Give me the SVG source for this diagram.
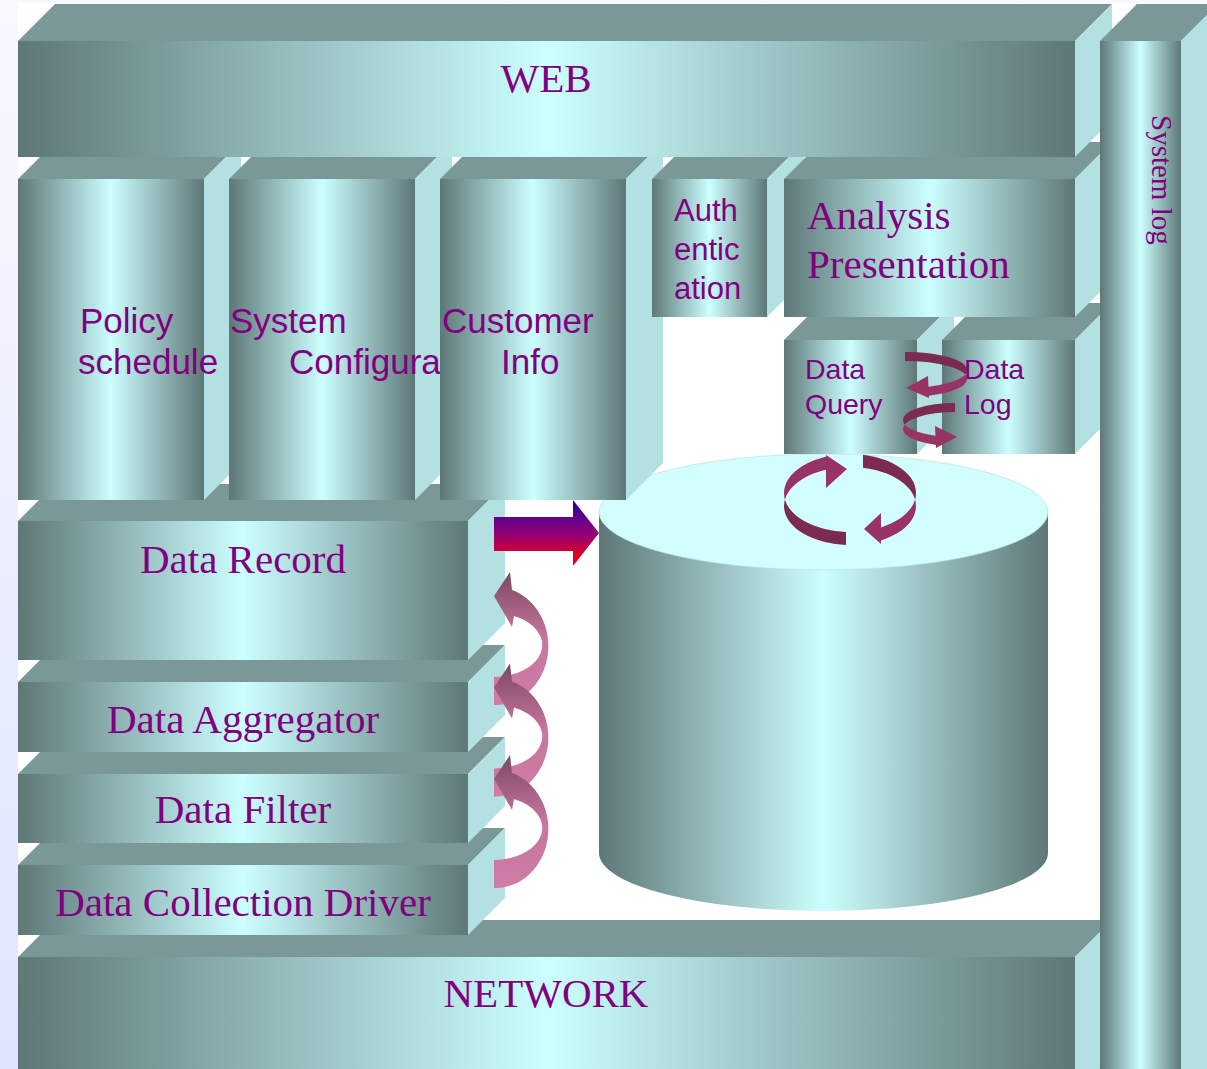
<svg xmlns="http://www.w3.org/2000/svg" width="1207" height="1069" viewBox="0 0 1207 1069">
  <defs>
    <linearGradient id="bg" x1="0" y1="0" x2="0" y2="1">
      <stop offset="0" stop-color="#f8f8ff"/>
      <stop offset="1" stop-color="#dfe5ff"/>
    </linearGradient>
    <!-- front faces: dark edges, light centre -->
    <linearGradient id="face" x1="0" y1="0" x2="1" y2="0">
      <stop offset="0" stop-color="#5e7777"/>
      <stop offset="0.5" stop-color="#ccffff"/>
      <stop offset="1" stop-color="#5e7777"/>
    </linearGradient>
    <linearGradient id="bigArrow" gradientUnits="userSpaceOnUse" x1="0" y1="500" x2="0" y2="566">
      <stop offset="0" stop-color="#2a00a0"/>
      <stop offset="0.5" stop-color="#900078"/>
      <stop offset="1" stop-color="#ff0000"/>
    </linearGradient>
    <linearGradient id="curl" x1="0" y1="0" x2="0" y2="1">
      <stop offset="0" stop-color="#7b4862"/>
      <stop offset="0.5" stop-color="#c676a0"/>
      <stop offset="1" stop-color="#cf7ca6"/>
    </linearGradient>
    <clipPath id="cUL"><rect x="780" y="440" width="46" height="59.5"/></clipPath>
    <clipPath id="cLL"><rect x="780" y="499.5" width="66" height="60"/></clipPath>
    <clipPath id="cUR"><rect x="863" y="440" width="60" height="59.5"/></clipPath>
    <clipPath id="cLR"><rect x="881" y="499.5" width="42" height="60"/></clipPath>
    <clipPath id="qU"><rect x="905" y="345" width="70" height="29.5"/></clipPath>
    <clipPath id="qL"><rect x="928" y="374.5" width="47" height="30"/></clipPath>
    <clipPath id="lU"><rect x="895" y="398" width="60" height="26.5"/></clipPath>
    <clipPath id="lL"><rect x="895" y="424.5" width="41" height="30"/></clipPath>
    <path id="ring" fill-rule="evenodd" d="M784,493 a66,39 0 1,0 132,0 a66,39 0 1,0 -132,0 Z M784,506 a66,39 0 1,0 132,0 a66,39 0 1,0 -132,0 Z"/>
    <path id="ringQ" fill-rule="evenodd" d="M843,370 a62,18 0 1,0 124,0 a62,18 0 1,0 -124,0 Z M843,379 a62,18 0 1,0 124,0 a62,18 0 1,0 -124,0 Z"/>
    <path id="ringL" fill-rule="evenodd" d="M903,420 a52,17 0 1,0 104,0 a52,17 0 1,0 -104,0 Z M903,429 a52,17 0 1,0 104,0 a52,17 0 1,0 -104,0 Z"/>
  </defs>
  <style>
    .front { fill: url(#face); }
    .top { fill: #799897; }
    .side { fill: #b3e0e0; }
    .serif { font-family: "Liberation Serif", "Times New Roman", serif; fill: #800080; font-size: 41px; }
    .serif.small { font-size: 29px; }
    .sans { font-family: "Liberation Sans", Arial, sans-serif; fill: #800080; }
    .mid { text-anchor: middle; }
    .dark { fill: #7b2a52; }
    .lite { fill: #993366; }
  </style>

  <!-- page -->
  <rect x="0" y="0" width="1207" height="1069" fill="url(#bg)"/>
  <rect x="18" y="3" width="1189" height="1066" fill="#ffffff"/>

  <!-- stacked blocks, drawn bottom to top -->
  <g id="network">
    <path class="top" d="M18,957 L55,920 L1112,920 L1075,957 Z"/>
    <path class="side" d="M1075,957 L1112,920 L1112,1069 L1075,1069 Z"/>
    <rect class="front" x="18" y="957" width="1057" height="120"/>
    <text class="serif mid" x="546" y="1007">NETWORK</text>
  </g>
  <g id="collection-driver">
    <path class="top" d="M18,865 L55,828 L505,828 L468,865 Z"/>
    <path class="side" d="M468,865 L505,828 L505,898 L468,935 Z"/>
    <rect class="front" x="18" y="865" width="450" height="70"/>
    <text class="serif mid" x="243" y="916">Data Collection Driver</text>
  </g>
  <g id="filter">
    <path class="top" d="M18,774 L55,737 L505,737 L468,774 Z"/>
    <path class="side" d="M468,774 L505,737 L505,806 L468,843 Z"/>
    <rect class="front" x="18" y="774" width="450" height="69"/>
    <text class="serif mid" x="243" y="823">Data Filter</text>
  </g>
  <g id="aggregator">
    <path class="top" d="M18,682 L55,645 L505,645 L468,682 Z"/>
    <path class="side" d="M468,682 L505,645 L505,715 L468,752 Z"/>
    <rect class="front" x="18" y="682" width="450" height="70"/>
    <text class="serif mid" x="243" y="733">Data Aggregator</text>
  </g>
  <g id="data-record">
    <path class="top" d="M18,521 L55,484 L505,484 L468,521 Z"/>
    <path class="side" d="M468,521 L505,484 L505,623 L468,660 Z"/>
    <rect class="front" x="18" y="521" width="450" height="139"/>
    <text class="serif mid" x="243" y="573">Data Record</text>
  </g>

  <!-- storage drum -->
  <g id="database">
    <path class="front" d="M599,512 L599,853 A224.5,58 0 0,0 1048,853 L1048,512 Z"/>
    <ellipse cx="823.5" cy="512" rx="224.5" ry="58" fill="#d2fefe" stroke="#b8dcdc" stroke-width="0.6"/>
  </g>

  <g id="policy-schedule">
    <path class="top" d="M18,179 L55,142 L241,142 L204,179 Z"/>
    <path class="side" d="M204,179 L241,142 L241,463 L204,500 Z"/>
    <rect class="front" x="18" y="179" width="186" height="321"/>
    <text class="sans" font-size="35" x="80" y="333">Policy</text>
    <text class="sans" font-size="35" x="78" y="374">schedule</text>
  </g>
  <g id="system-config">
    <path class="top" d="M229,179 L266,142 L452,142 L415,179 Z"/>
    <path class="side" d="M415,179 L452,142 L452,463 L415,500 Z"/>
    <rect class="front" x="229" y="179" width="186" height="321"/>
    <text class="sans" font-size="35" x="230" y="333">System</text>
    <text class="sans" font-size="35" x="289" y="374">Configura</text>
  </g>
  <g id="customer-info">
    <path class="top" d="M440,179 L477,142 L663,142 L626,179 Z"/>
    <path class="side" d="M626,179 L663,142 L663,463 L626,500 Z"/>
    <rect class="front" x="440" y="179" width="186" height="321"/>
    <text class="sans" font-size="35" x="442" y="333">Customer</text>
    <text class="sans" font-size="35" x="501" y="374">Info</text>
  </g>
  <g id="data-query">
    <path class="top" d="M784,340 L821,303 L954,303 L917,340 Z"/>
    <path class="side" d="M917,340 L954,303 L954,417 L917,454 Z"/>
    <rect class="front" x="784" y="340" width="133" height="114"/>
    <text class="sans" font-size="28.5" x="805" y="379">Data</text>
    <text class="sans" font-size="28.5" x="805" y="414">Query</text>
  </g>
  <g id="data-log">
    <path class="top" d="M942,340 L979,303 L1112,303 L1075,340 Z"/>
    <path class="side" d="M1075,340 L1112,303 L1112,417 L1075,454 Z"/>
    <rect class="front" x="942" y="340" width="133" height="114"/>
    <text class="sans" font-size="28.5" x="964" y="379">Data</text>
    <text class="sans" font-size="28.5" x="964" y="414">Log</text>
  </g>
  <g id="authentication">
    <path class="top" d="M652,179 L689,142 L804,142 L767,179 Z"/>
    <path class="side" d="M767,179 L804,142 L804,280 L767,317 Z"/>
    <rect class="front" x="652" y="179" width="115" height="138"/>
    <text class="sans" font-size="31" x="674" y="221">Auth</text>
    <text class="sans" font-size="31" x="674" y="260">entic</text>
    <text class="sans" font-size="31" x="674" y="299">ation</text>
  </g>
  <g id="analysis-presentation">
    <path class="top" d="M784,179 L821,142 L1112,142 L1075,179 Z"/>
    <path class="side" d="M1075,179 L1112,142 L1112,280 L1075,317 Z"/>
    <rect class="front" x="784" y="179" width="291" height="138"/>
    <text class="serif" x="807" y="229">Analysis</text>
    <text class="serif" x="807" y="278">Presentation</text>
  </g>
  <g id="web">
    <path class="top" d="M18,41 L55,4 L1112,4 L1075,41 Z"/>
    <path class="side" d="M1075,41 L1112,4 L1112,120 L1075,157 Z"/>
    <rect class="front" x="18" y="41" width="1057" height="116"/>
    <text class="serif mid" x="546" y="92">WEB</text>
  </g>
  <g id="system-log">
    <path class="top" d="M1100,41 L1137,4 L1218,4 L1181,41 Z"/>
    <path class="side" d="M1181,41 L1218,4 L1218,1069 L1181,1069 Z"/>
    <rect class="front" x="1100" y="41" width="81" height="1040"/>
    <text class="serif small" transform="translate(1152,115) rotate(90)">System log</text>
  </g>

  <!-- connectors -->
  <g id="connectors">
    <!-- record into storage -->
    <path fill="url(#bigArrow)" d="M494,517 L573,517 L573,500 L599,533 L573,566 L573,551 L494,551 Z"/>

    <!-- upward curls along the processing stack -->
    <path fill="url(#curl)" d="M510,572 L494,596 L512,627 L514,616 A49,32 0 0,1 494,677 L494,705 A53,59 0 0,0 512,590 Z"/>
    <path fill="url(#curl)" d="M510,663.5 L494,687.5 L512,718.5 L514,707.5 A49,32 0 0,1 494,768.5 L494,796.5 A53,59 0 0,0 512,681.5 Z"/>
    <path fill="url(#curl)" d="M510,755 L494,779 L512,810 L514,799 A49,32 0 0,1 494,860 L494,888 A53,59 0 0,0 512,773 Z"/>

    <!-- cycle on the storage top -->
    <use href="#ring" class="lite" clip-path="url(#cUL)"/>
    <use href="#ring" class="dark" clip-path="url(#cLL)"/>
    <use href="#ring" class="dark" clip-path="url(#cUR)"/>
    <use href="#ring" class="lite" clip-path="url(#cLR)"/>
    <polygon class="lite" points="826,455 826,488 847,469"/>
    <polygon class="lite" points="881,513 881,544 864,529"/>

    <!-- exchange between query and log -->
    <use href="#ringQ" class="dark" clip-path="url(#qU)"/>
    <use href="#ringQ" class="lite" clip-path="url(#qL)"/>
    <polygon class="lite" points="928,376 929,398 906,388"/>
    <use href="#ringL" class="dark" clip-path="url(#lU)"/>
    <use href="#ringL" class="lite" clip-path="url(#lL)"/>
    <polygon class="lite" points="935,426 936,448 957,437"/>
  </g>
</svg>
